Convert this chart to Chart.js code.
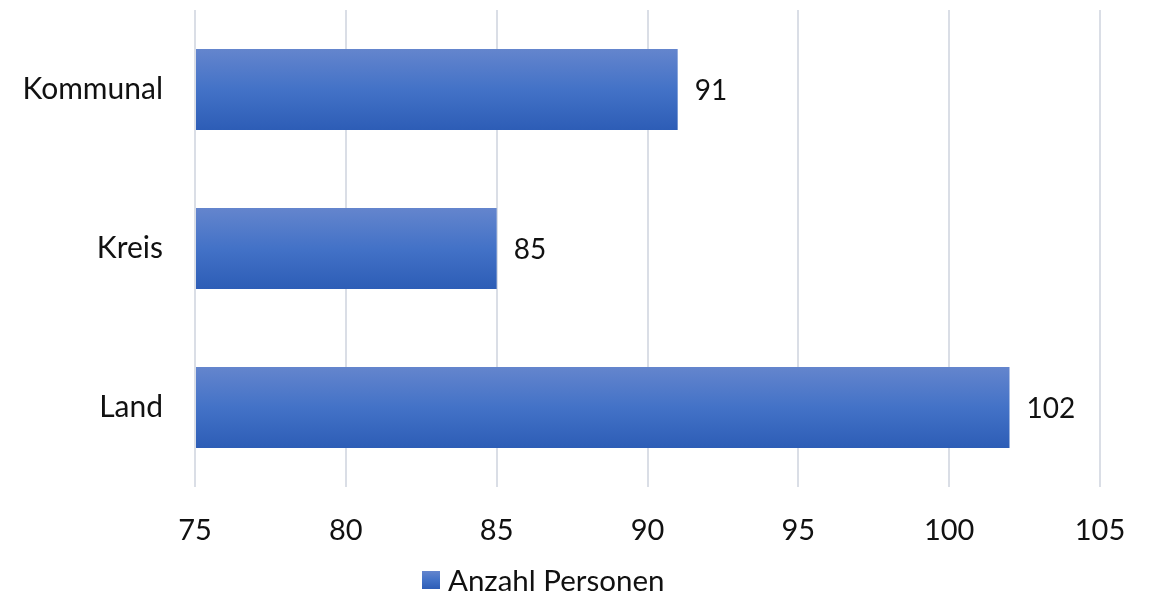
<!DOCTYPE html>
<html>
<head>
<meta charset="utf-8">
<script src="https://cdn.jsdelivr.net/npm/chart.js@4"></script>
<style>
html,body{margin:0;padding:0;background:#fff;}
#wrap{width:1153px;height:595px;position:relative;}
</style>
</head>
<body>
<div id="wrap"><canvas id="c" width="1153" height="595"></canvas></div>
<script>
const categories = ["Kommunal", "Kreis", "Land"];
const seriesName = "Anzahl Personen";
const values = [91, 85, 102];
const xTicks = [75, 80, 85, 90, 95, 100, 105];

const FONT = "Lato, 'Open Sans', sans-serif";
const TOP_C = "#6485cd", MID_C = "#4372c7", BOT_C = "#2d5db6";

function grad(ctx, y0, y1) {
  const g = ctx.createLinearGradient(0, y0, 0, y1);
  g.addColorStop(0, TOP_C);
  g.addColorStop(0.5, MID_C);
  g.addColorStop(1, BOT_C);
  return g;
}

const valueLabels = {
  id: 'valueLabels',
  afterDatasetsDraw(chart) {
    const ctx = chart.ctx;
    const meta = chart.getDatasetMeta(0);
    ctx.save();
    ctx.font = "28px " + FONT;
    ctx.fillStyle = "#111";
    ctx.textAlign = "left";
    ctx.textBaseline = "middle";
    meta.data.forEach((bar, i) => {
      ctx.fillText(String(values[i]), bar.x + 17, bar.y + 1);
    });
    ctx.restore();
  }
};

const customLegend = {
  id: 'customLegend',
  afterDraw(chart) {
    const ctx = chart.ctx;
    ctx.save();
    const bx = 422, by = 571, s = 18;
    ctx.fillStyle = grad(ctx, by, by + s);
    ctx.fillRect(bx, by, s, s);
    ctx.font = "29.5px " + FONT;
    ctx.fillStyle = "#111";
    ctx.textAlign = "left";
    ctx.textBaseline = "middle";
    ctx.fillText(seriesName, bx + 26, by + s / 2 + 1);
    ctx.restore();
  }
};

new Chart(document.getElementById('c'), {
  type: 'bar',
  data: {
    labels: categories,
    datasets: [{
      label: seriesName,
      data: values,
      base: xTicks[0],
      barPercentage: 1,
      categoryPercentage: 0.51,
      backgroundColor: (c) => {
        const chart = c.chart;
        const ys = chart.scales && chart.scales.y;
        if (!ys || !chart.chartArea || c.dataIndex === undefined) return MID_C;
        const yc = ys.getPixelForValue(c.dataIndex);
        const band = (chart.chartArea.bottom - chart.chartArea.top) / categories.length;
        const h = band * 0.51;
        return grad(chart.ctx, yc - h / 2, yc + h / 2);
      },
      borderWidth: 0
    }]
  },
  options: {
    indexAxis: 'y',
    responsive: false,
    animation: false,
    devicePixelRatio: 1,
    layout: { padding: { top: 10, right: 53, left: 0, bottom: 0 } },
    plugins: {
      legend: { display: false },
      tooltip: { enabled: false }
    },
    scales: {
      x: {
        type: 'linear',
        min: xTicks[0],
        max: xTicks[xTicks.length - 1],
        afterBuildTicks: (scale) => { scale.ticks = xTicks.map(v => ({ value: v })); },
        afterFit: (scale) => { scale.height = 108; scale.paddingLeft = 0; scale.paddingRight = 0; },
        grid: { color: '#dadee6', lineWidth: 2, drawTicks: false },
        border: { display: false },
        ticks: { font: { family: FONT, size: 29 }, color: '#111', padding: 26 }
      },
      y: {
        afterFit: (scale) => { scale.width = 195; scale.paddingTop = 0; scale.paddingBottom = 0; },
        grid: { display: false, drawTicks: false },
        border: { display: false },
        ticks: { font: { family: FONT, size: 30 }, color: '#111', padding: 32 }
      }
    }
  },
  plugins: [valueLabels, customLegend]
});
</script>
</body>
</html>
